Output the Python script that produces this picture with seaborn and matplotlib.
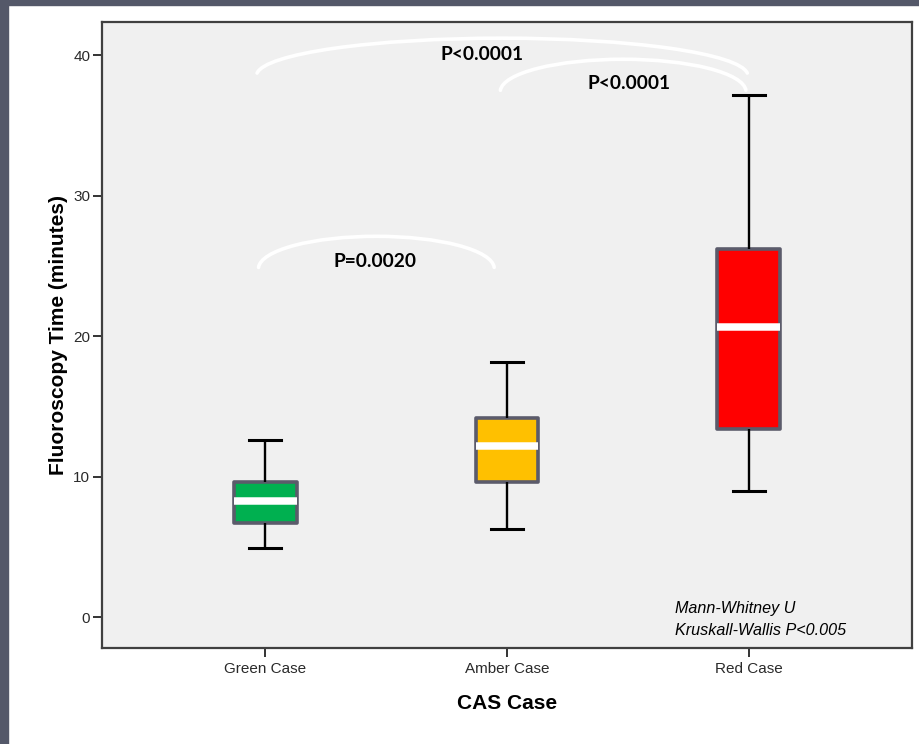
import numpy as np
import pandas as pd
import matplotlib
matplotlib.use('Agg')
import matplotlib.pyplot as plt
from matplotlib.patches import Arc, Rectangle
import seaborn as sns

plt.rcParams['font.family'] = ['Liberation Sans', 'DejaVu Sans']

# five-number summaries (min, q1, median, q3, max)
cases = ['Green Case', 'Amber Case', 'Red Case']
green_times = [4.9, 6.7, 8.25, 9.6, 12.6]
amber_times = [6.25, 9.65, 12.2, 14.2, 18.15]
red_times = [8.95, 13.4, 20.65, 26.2, 37.15]
case_colors = ['#00b050', '#ffc000', '#ff0000']

# significance brackets
comparisons = [('Green Case', 'Red Case', 'P<0.0001'),
               ('Amber Case', 'Red Case', 'P<0.0001'),
               ('Green Case', 'Amber Case', 'P=0.0020')]

data = pd.DataFrame({
    'case': np.repeat(cases, 5),
    'time': green_times + amber_times + red_times,
})

fig = plt.figure(figsize=(9.2, 7.44), dpi=100)
fig.patches.append(Rectangle((0, 0), 8 / 920, 1, transform=fig.transFigure,
                             color='#545869', zorder=0))
fig.patches.append(Rectangle((0, 1 - 5 / 744), 1, 5 / 744, transform=fig.transFigure,
                             color='#545869', zorder=0))

ax = fig.add_axes([0.1109, 0.129, 0.8804, 0.8414])
ax.set_facecolor('#f0f0f0')

sns.boxplot(data=data, x='case', y='time', hue='case', order=cases,
            palette=case_colors, saturation=1, legend=False, width=0.26,
            whis=(0, 100), linecolor='black', ax=ax,
            boxprops=dict(edgecolor='#5b5b6b', linewidth=2.6, joinstyle='round'),
            medianprops=dict(color='white', linewidth=5.4),
            whiskerprops=dict(color='black', linewidth=1.7),
            capprops=dict(color='black', linewidth=2.2))

ax.set_xlim(-0.674, 2.674)
ax.set_ylim(-2.2, 42.35)
ax.set_yticks([0, 10, 20, 30, 40])

ax.set_xlabel('CAS Case', fontsize=15, fontweight='bold', labelpad=13)
ax.set_ylabel('Fluoroscopy Time (minutes)', fontsize=15, fontweight='bold', labelpad=4)
ax.tick_params(axis='both', direction='out', length=6.5, width=1.4, color='#333333',
               labelsize=11, labelcolor='#2a2a2a')
ax.tick_params(axis='y', pad=2)
for s in ax.spines.values():
    s.set_color('#404040')
    s.set_linewidth(1.6)

# arcs: (start, end, peak, rise, label x, label y)
arc_geom = [(-0.02, 1.98, 41.2, 2.2, 0.897, 40.05),
            (0.98, 1.98, 39.7, 1.9, 1.504, 37.95),
            (-0.02, 0.94, 27.1, 1.9, 0.455, 25.3)]
t0 = 10
for (a_case, b_case, label), (x0, x1, peak, rise, lx, ly) in zip(comparisons, arc_geom):
    half = (x1 - x0) / 2
    a = half / np.cos(np.radians(t0))
    b = rise / (1 - np.sin(np.radians(t0)))
    arc = Arc(((x0 + x1) / 2, peak - b), 2 * a, 2 * b, theta1=t0, theta2=180 - t0,
              color='white', linewidth=2.6, capstyle='round', zorder=5)
    ax.add_patch(arc)
    ax.text(lx, ly, label, ha='center', va='center', fontsize=13.8,
            fontweight='bold', family=['Lato', 'DejaVu Sans'], color='black', zorder=6)

ax.text(1.694, 0.64, 'Mann-Whitney U', ha='left', va='center', fontsize=11.6,
        style='italic', color='black')
ax.text(1.694, -0.93, 'Kruskall-Wallis P<0.005', ha='left', va='center', fontsize=11.6,
        style='italic', color='black')

fig.savefig('out.png', dpi=100, facecolor='white')
